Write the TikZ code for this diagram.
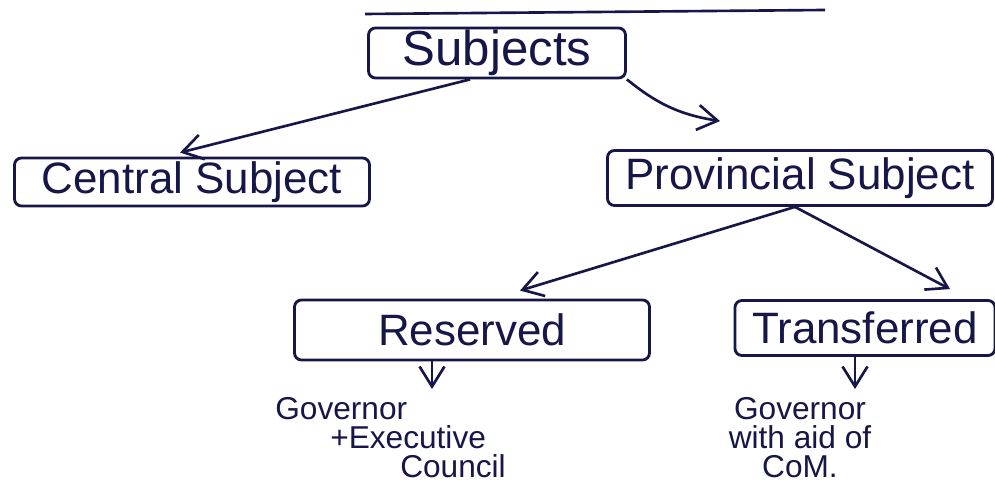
\documentclass[tikz,border=0pt]{standalone}
\usepackage{fontspec}
\setmainfont{Liberation Sans}
\usetikzlibrary{arrows.meta}
\definecolor{ink}{RGB}{22,22,72}
\begin{document}
\begin{tikzpicture}[x=0.02cm,y=-0.02cm,
  every node/.style={text=ink},
  box/.style={draw=ink,line width=1.6pt,rounded corners=4pt,inner sep=0pt,font=\fontsize{25}{30}\selectfont},
  link/.style={draw=ink,line width=1.5pt,-{Straight Barb[length=4mm,width=5mm,line width=1.5pt]}},
  note/.style={font=\fontsize{18}{16.5}\selectfont,inner sep=0pt}]
\useasboundingbox (0,0) rectangle (995,482);
\fill[white] (0,0) rectangle (995,482);
\coordinate (tl) at (365,14);
\coordinate (tr) at (825,10);
\draw[ink,line width=1.5pt] (tl) -- (tr);
\node[box,minimum width=257*0.02cm,minimum height=50*0.02cm,font=\fontsize{28}{32}\selectfont] (sub) at (497,53) {Subjects};
\node[box,minimum width=355*0.02cm,minimum height=48*0.02cm] (cen) at (192,182) {Central Subject};
\node[box,minimum width=385*0.02cm,minimum height=55*0.02cm] (prov) at (800,178) {Provincial Subject};
\node[box,minimum width=355*0.02cm,minimum height=60*0.02cm] (res) at (472,330) {Reserved};
\node[box,minimum width=260*0.02cm,minimum height=55*0.02cm] (tra) at (865,328) {Transferred};
\draw[link] ([xshift=-27*0.02cm]sub.south) -- ([xshift=-12*0.02cm,yshift=4*0.02cm]cen.north);
\draw[link] (sub.south east) to[bend right=15] ([xshift=-80*0.02cm,yshift=28*0.02cm]prov.north);
\draw[link] ([xshift=-5*0.02cm]prov.south) -- ([xshift=48*0.02cm,yshift=8*0.02cm]res.north);
\draw[link] ([xshift=-5*0.02cm]prov.south) -- ([xshift=85*0.02cm,yshift=10*0.02cm]tra.north);
\node[note,anchor=north west,align=left] (gl) at (275,397) {Governor\\\hspace{1.1cm}+Executive\\\hspace{2.5cm}Council};
\node[note,anchor=north,align=center] (gr) at (800,397) {Governor\\with aid of\\CoM.};
\draw[link] ([xshift=-40*0.02cm]res.south) -- ([xshift=-40*0.02cm,yshift=8*0.02cm]res.south |- gl.north);
\draw[link] ([xshift=-10*0.02cm]tra.south) -- ([xshift=-10*0.02cm,yshift=8*0.02cm]tra.south |- gr.north);
\end{tikzpicture}
\end{document}
